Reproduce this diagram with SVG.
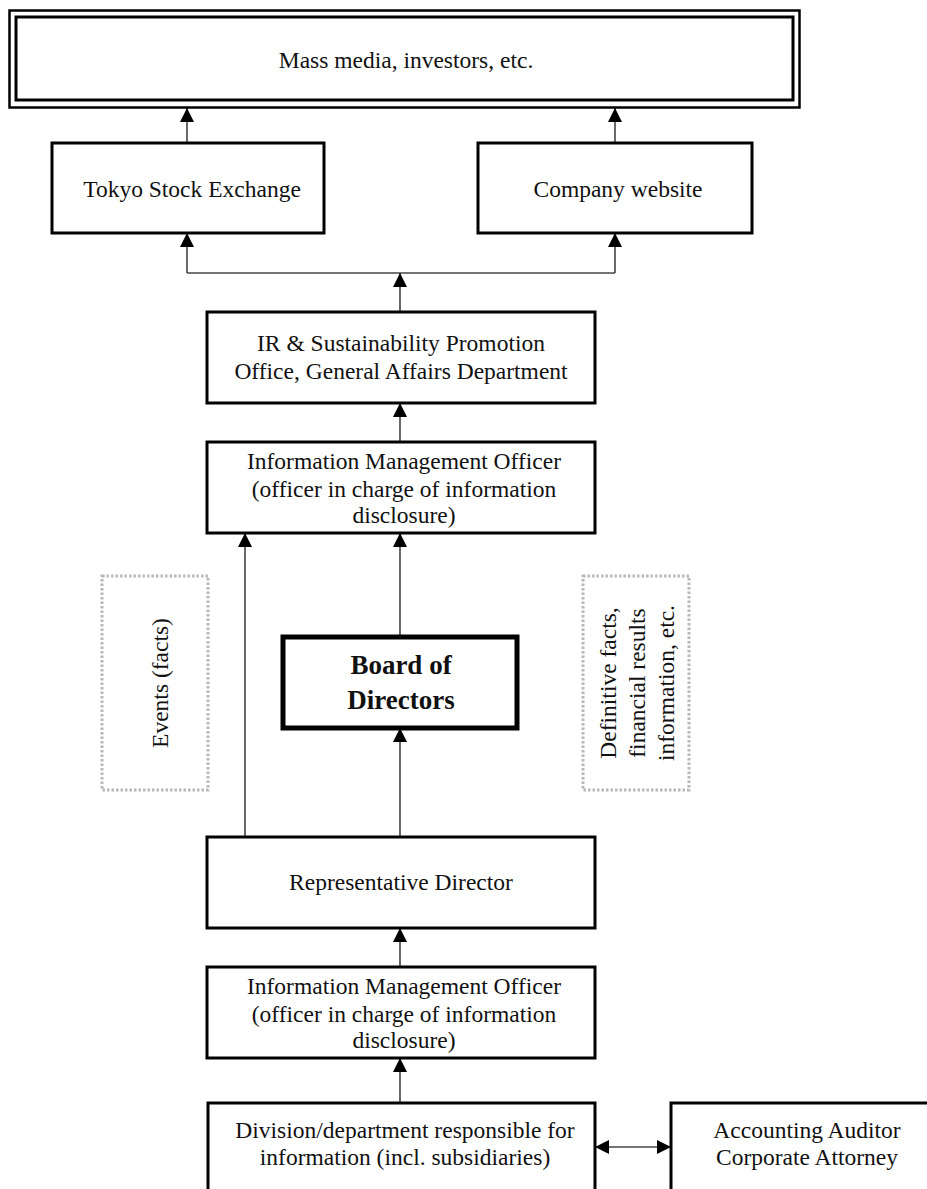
<svg xmlns="http://www.w3.org/2000/svg" width="927" height="1189" viewBox="0 0 927 1189">
<defs>
<marker id="ah" markerUnits="userSpaceOnUse" markerWidth="14" markerHeight="14" viewBox="0 0 14 14" refX="14" refY="7" orient="auto-start-reverse">
<path d="M0,0 L14,7 L0,14 z" fill="#000"/>
</marker>
<style>
.box{fill:#fff;stroke:#000;stroke-width:3}
.t{font-family:"Liberation Serif","Times New Roman",serif;font-size:23.5px;fill:#111;text-anchor:middle}
.b{font-weight:bold;font-size:27px}
.dot{fill:none;stroke:#b8b8b8;stroke-width:3;stroke-dasharray:2.5 2}
.c{fill:none;stroke:#444;stroke-width:1.6}
.a{marker-end:url(#ah)}
</style>
</defs>
<rect width="927" height="1189" fill="#fff"/>
<g id="connectors">
<line class="c a" x1="187" y1="143" x2="187" y2="108"/>
<line class="c a" x1="615" y1="143" x2="615" y2="108"/>
<line class="c a" x1="187" y1="273" x2="187" y2="233"/>
<line class="c a" x1="615" y1="273" x2="615" y2="233"/>
<line class="c" x1="187" y1="273" x2="615" y2="273"/>
<line class="c a" x1="400" y1="312" x2="400" y2="273"/>
<line class="c a" x1="400" y1="442" x2="400" y2="403"/>
<line class="c a" x1="245" y1="837" x2="245" y2="533"/>
<line class="c a" x1="400" y1="637" x2="400" y2="533"/>
<line class="c a" x1="400" y1="837" x2="400" y2="728"/>
<line class="c a" x1="400" y1="967" x2="400" y2="928"/>
<line class="c a" x1="400" y1="1103" x2="400" y2="1058"/>
<line class="c" x1="595" y1="1147" x2="671" y2="1147" marker-start="url(#ah)" marker-end="url(#ah)"/>
</g>
<g id="media">
<rect x="9.5" y="10.5" width="790" height="97" fill="#fff" stroke="#000" stroke-width="2.5"/>
<rect x="16" y="17" width="777" height="83" fill="none" stroke="#000" stroke-width="3"/>
<text class="t" x="406" y="68">Mass media, investors, etc.</text>
</g>
<g id="tse">
<rect class="box" x="52" y="143" width="272" height="90"/>
<text class="t" x="192" y="197">Tokyo Stock Exchange</text>
</g>
<g id="website">
<rect class="box" x="478" y="143" width="274" height="90"/>
<text class="t" x="618" y="197">Company website</text>
</g>
<g id="ir">
<rect class="box" x="207" y="312" width="388" height="91"/>
<text class="t" x="401" y="351">IR &amp; Sustainability Promotion</text>
<text class="t" x="401" y="379">Office, General Affairs Department</text>
</g>
<g id="imo1">
<rect class="box" x="207" y="442" width="388" height="91"/>
<text class="t" x="404" y="469">Information Management Officer</text>
<text class="t" x="404" y="497">(officer in charge of information</text>
<text class="t" x="404" y="523">disclosure)</text>
</g>
<g id="events">
<rect class="dot" x="102" y="576" width="106" height="214"/>
<text class="t" transform="translate(168,683) rotate(-90)">Events (facts)</text>
</g>
<g id="definitive">
<rect class="dot" x="583" y="576" width="106" height="214"/>
<text class="t" transform="translate(616,683) rotate(-90)"><tspan x="0" y="0">Definitive facts,</tspan><tspan x="0" y="29">financial results</tspan><tspan x="0" y="58">information, etc.</tspan></text>
</g>
<g id="board">
<rect x="283" y="637" width="234" height="91" fill="#fff" stroke="#000" stroke-width="5"/>
<text class="t b" x="401" y="674">Board of</text>
<text class="t b" x="401" y="709">Directors</text>
</g>
<g id="repdir">
<rect class="box" x="207" y="837" width="388" height="91"/>
<text class="t" x="401" y="890">Representative Director</text>
</g>
<g id="imo2">
<rect class="box" x="207" y="967" width="388" height="91"/>
<text class="t" x="404" y="994">Information Management Officer</text>
<text class="t" x="404" y="1022">(officer in charge of information</text>
<text class="t" x="404" y="1048">disclosure)</text>
</g>
<g id="division">
<rect class="box" x="208" y="1103" width="387" height="100"/>
<text class="t" x="405" y="1138">Division/department responsible for</text>
<text class="t" x="405" y="1165">information (incl. subsidiaries)</text>
</g>
<g id="auditor">
<rect class="box" x="671" y="1103" width="270" height="100"/>
<text class="t" x="807" y="1138">Accounting Auditor</text>
<text class="t" x="807" y="1165">Corporate Attorney</text>
</g>
</svg>
